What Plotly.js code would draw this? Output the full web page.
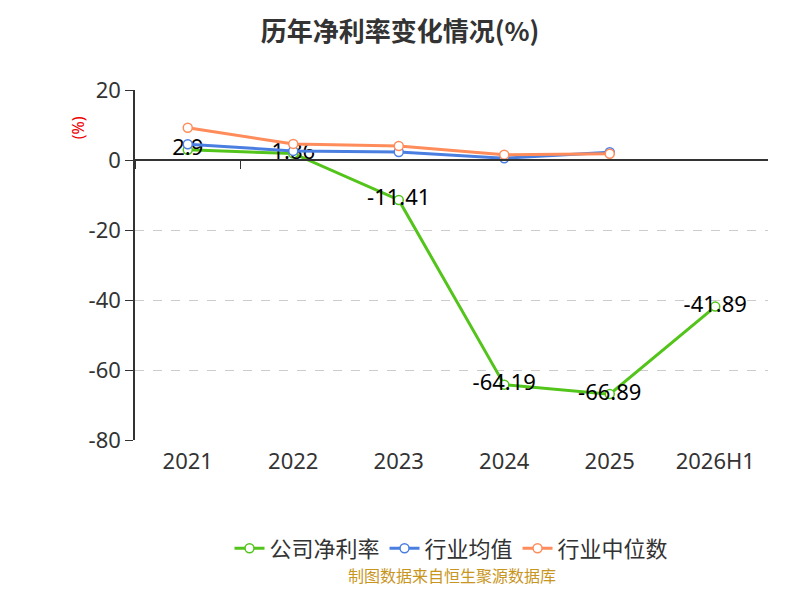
<!DOCTYPE html>
<html>
<head>
<meta charset="utf-8">
<script src="https://cdn.plot.ly/plotly-3.0.1.min.js"></script>
<style>body{margin:0}#chart{width:800px;height:600px}</style>
</head>
<body>
<div id="chart"></div>
<script>
const years = ["2021", "2022", "2023", "2024", "2025", "2026H1"];
const company = [2.9, 1.86, -11.41, -64.19, -66.89, -41.89];
const industryAvg = [4.5, 2.6, 2.3, 0.5, 2.2, null];
const industryMedian = [9.2, 4.6, 4.0, 1.5, 1.8, null];
const companyLabels = ["2.9", "1.86", "-11.41", "-64.19", "-66.89", "-41.89"];
const yTickVals = [20, 0, -20, -40, -60, -80];
const yTickText = ["20", "0", "-20", "-40", "-60", "-80"];

const font = "'Noto Sans', 'Noto Sans CJK SC', sans-serif";

function line(name, y, color, extra) {
  return Object.assign({
    x: years, y, name, type: "scatter", mode: "lines+markers",
    line: { color, width: 3 },
    marker: { size: 9, color: "#fff", line: { color, width: 1.5 } },
    hoverinfo: "skip",
  }, extra || {});
}

const traces = [
  line("公司净利率", company, "#52c41a", {
    mode: "lines+markers+text",
    text: companyLabels,
    textposition: "middle center",
    textfont: { size: 22, color: "#000", family: font },
  }),
  line("行业均值", industryAvg, "#4a7ee0"),
  line("行业中位数", industryMedian, "#ff8c5a"),
];
// blank trace to draw the zero-line axis with boundary ticks
traces.push({ x: years, y: [null], xaxis: "x2", showlegend: false, type: "scatter", hoverinfo: "skip" });

const layout = {
  width: 800, height: 600,
  margin: { l: 135, r: 32, t: 90, b: 160 },
  paper_bgcolor: "#fff", plot_bgcolor: "#fff",
  font: { family: font, size: 20, color: "#333" },
  title: { text: "<b>历年净利率变化情况(%)</b>", x: 0.5, y: 0.962, font: { size: 26, color: "#333", family: "'Noto Sans CJK SC', sans-serif" } },
  showlegend: true,
  legend: { orientation: "h", x: 0.5, xanchor: "center", y: -0.25, font: { size: 22, color: "#333", family: "'Noto Sans CJK SC', sans-serif" } },
  xaxis: {
    type: "category", range: [-0.5, 5.5], showgrid: false, showline: false, zeroline: false,
    tickfont: { size: 22, color: "#333" }, ticks: "", ticklabelstandoff: 6,
  },
  xaxis2: {
    type: "category", overlaying: "x", anchor: "free", position: 0.8, range: [-0.5, 5.5],
    showline: true, linecolor: "#333", linewidth: 1.5,
    ticks: "outside", tickson: "boundaries", ticklen: 8, tickcolor: "#333",
    showticklabels: false, showgrid: false,
  },
  yaxis: {
    range: [-80, 20], tickvals: yTickVals, ticktext: yTickText,
    showline: true, linecolor: "#333", linewidth: 1.5,
    ticks: "outside", ticklen: 8, tickcolor: "#333",
    gridcolor: "#ccc", griddash: "dash", zeroline: false,
    tickfont: { size: 22, color: "#333" },
  },
  annotations: [
    { text: "(%)", xref: "paper", yref: "paper", x: -0.11, y: 0.93, showarrow: false, textangle: -90, font: { size: 16, color: "#e00" } },
    { text: "制图数据来自恒生聚源数据库", xref: "paper", yref: "paper", x: 0.5, y: -0.425, xanchor: "center", showarrow: false, font: { size: 16, color: "#c8961e", family: "'Noto Sans CJK SC', sans-serif" } },
  ],
};

Plotly.newPlot("chart", traces, layout, { displayModeBar: false });
</script>
</body>
</html>
